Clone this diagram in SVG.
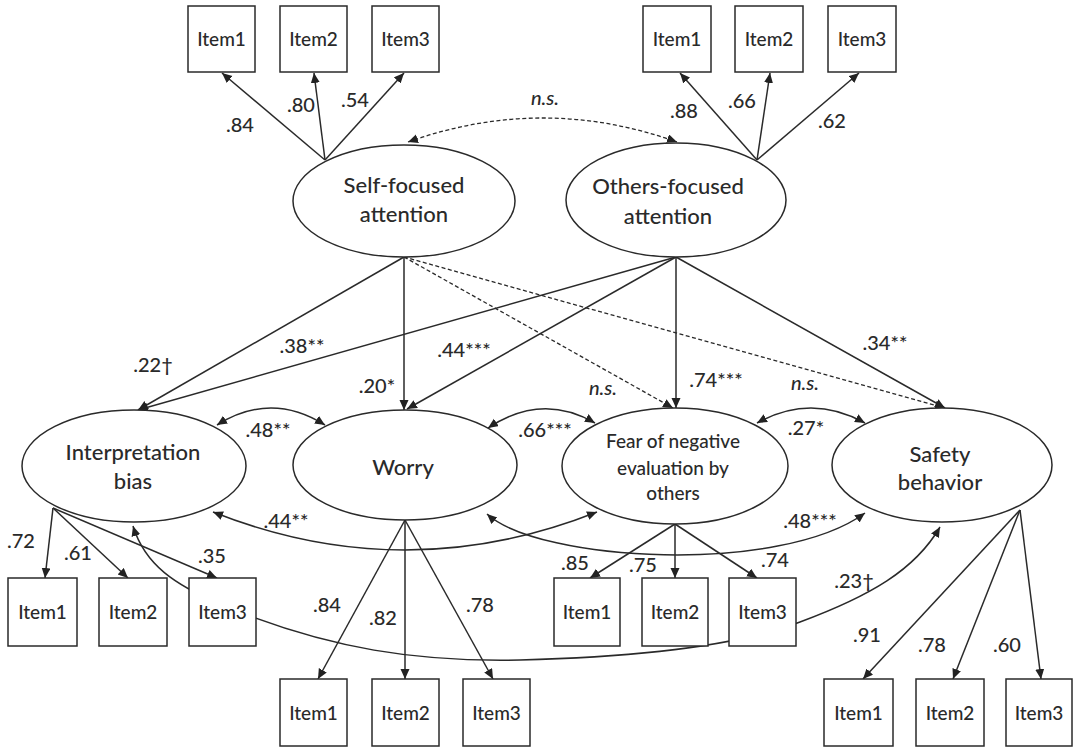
<svg xmlns="http://www.w3.org/2000/svg" width="1074" height="748" viewBox="0 0 1074 748">
<defs>
<marker id="ah" markerUnits="userSpaceOnUse" markerWidth="11" markerHeight="10" refX="10" refY="4.5" orient="auto-start-reverse">
<path d="M0,0 L10,4.5 L0,9 z" fill="#222"/>
</marker>
<style>
.ln{stroke:#2a2a2a;stroke-width:1.5;fill:none;marker-end:url(#ah)}
.dl{stroke:#2a2a2a;stroke-width:1.3;fill:none;stroke-dasharray:4 2.5;marker-end:url(#ah)}
.cv{stroke:#2a2a2a;stroke-width:1.5;fill:none;marker-start:url(#ah);marker-end:url(#ah)}
.cvd{stroke:#2a2a2a;stroke-width:1.3;fill:none;stroke-dasharray:4 2.5;marker-start:url(#ah);marker-end:url(#ah)}
.el{fill:#fff;stroke:#2a2a2a;stroke-width:1.5}
.bx{fill:#fff;stroke:#2a2a2a;stroke-width:1.5}
.t{font-family:Lato,"Open Sans",sans-serif;font-weight:500;fill:#2a2a2a;text-anchor:middle}
.lt{font-size:22px}
.ft{font-size:19px}
.it{font-size:19px}
.lb{font-family:Lato,"Open Sans",sans-serif;font-weight:500;fill:#2a2a2a;text-anchor:middle;font-size:20px}
.ns{font-style:italic}
</style>
</defs>
<rect width="1074" height="748" fill="#fff"/>
<g id="connectors">
<path class="ln" d="M325,160 L222,73"/>
<path class="ln" d="M325,160 L314,73"/>
<path class="ln" d="M325,160 L404,73"/>
<path class="ln" d="M757,160 L680,73"/>
<path class="ln" d="M757,160 L770,73"/>
<path class="ln" d="M757,160 L859,73"/>
<path class="cvd" d="M408,142 Q543,94 677,142"/>
<path class="ln" d="M404,257 L138,410"/>
<path class="ln" d="M404,257 L404,410"/>
<path class="dl" d="M404,257 L673,408"/>
<path class="dl" d="M404,257 L945,408"/>
<path class="ln" d="M676,257 L138,410"/>
<path class="ln" d="M676,257 L407,409"/>
<path class="ln" d="M676,257 L676,408"/>
<path class="ln" d="M676,257 L945,408"/>
<path class="cv" d="M217,425 Q271,391 325,425"/>
<path class="cv" d="M488,428 Q542,392 595,423"/>
<path class="cv" d="M757,423 Q811,393 865,423"/>
<path class="cv" d="M213,512 Q405,588 597,512"/>
<path class="cv" d="M487,514 C540,562 780,575 865,513"/>
<path class="cv" d="M133,526 C145,565 175,585 222,605 C330,650 420,662 520,660 C640,657 740,645 800,622 C870,596 915,570 940,527"/>
<path class="ln" d="M53,508 L45,578"/>
<path class="ln" d="M53,508 L128,578"/>
<path class="ln" d="M53,508 L217,578"/>
<path class="ln" d="M405,520 L318,679"/>
<path class="ln" d="M405,520 L405,679"/>
<path class="ln" d="M405,520 L493,679"/>
<path class="ln" d="M675,524 L590,578"/>
<path class="ln" d="M675,524 L675,578"/>
<path class="ln" d="M675,524 L757,578"/>
<path class="ln" d="M1020,510 L863,679"/>
<path class="ln" d="M1020,510 L953,679"/>
<path class="ln" d="M1020,510 L1041,679"/>
</g>
<g id="labels">
<text class="lb" x="240" y="132">.84</text>
<text class="lb" x="301" y="112">.80</text>
<text class="lb" x="355" y="107">.54</text>
<text class="lb ns" x="545" y="105">n.s.</text>
<text class="lb" x="684" y="118">.88</text>
<text class="lb" x="742" y="108">.66</text>
<text class="lb" x="832" y="128">.62</text>
<text class="lb" x="153" y="372">.22†</text>
<text class="lb" x="302" y="353">.38**</text>
<text class="lb" x="377" y="393">.20*</text>
<text class="lb" x="464" y="357">.44***</text>
<text class="lb ns" x="603" y="395">n.s.</text>
<text class="lb" x="716" y="387">.74***</text>
<text class="lb ns" x="805" y="390">n.s.</text>
<text class="lb" x="885" y="350">.34**</text>
<text class="lb" x="268" y="437">.48**</text>
<text class="lb" x="545" y="437">.66***</text>
<text class="lb" x="806" y="435">.27*</text>
<text class="lb" x="286" y="528">.44**</text>
<text class="lb" x="810" y="528">.48***</text>
<text class="lb" x="21" y="548">.72</text>
<text class="lb" x="78" y="560">.61</text>
<text class="lb" x="212" y="563">.35</text>
<text class="lb" x="327" y="612">.84</text>
<text class="lb" x="383" y="625">.82</text>
<text class="lb" x="480" y="612">.78</text>
<text class="lb" x="575" y="570">.85</text>
<text class="lb" x="643" y="572">.75</text>
<text class="lb" x="775" y="567">.74</text>
<text class="lb" x="854" y="588">.23†</text>
<text class="lb" x="867" y="642">.91</text>
<text class="lb" x="932" y="652">.78</text>
<text class="lb" x="1007" y="652">.60</text>
</g>
<g id="self-focused">
<ellipse class="el" cx="404" cy="201" rx="111" ry="56"/>
<text class="t lt" x="404" y="193">Self-focused</text>
<text class="t lt" x="404" y="222">attention</text>
</g>
<g id="others-focused">
<ellipse class="el" cx="676" cy="200" rx="110" ry="57"/>
<text class="t lt" x="668" y="194">Others-focused</text>
<text class="t lt" x="668" y="224">attention</text>
</g>
<g id="interpretation-bias">
<ellipse class="el" cx="134" cy="466" rx="112" ry="56"/>
<text class="t lt" x="133" y="460">Interpretation</text>
<text class="t lt" x="133" y="489">bias</text>
</g>
<g id="worry">
<ellipse class="el" cx="405" cy="465" rx="112" ry="55"/>
<text class="t lt" x="403" y="475">Worry</text>
</g>
<g id="fear">
<ellipse class="el" cx="675" cy="466" rx="113" ry="58"/>
<text class="t ft" x="673" y="448">Fear of negative</text>
<text class="t ft" x="673" y="475">evaluation by</text>
<text class="t ft" x="673" y="500">others</text>
</g>
<g id="safety">
<ellipse class="el" cx="942" cy="465" rx="110" ry="57"/>
<text class="t lt" x="940" y="462">Safety</text>
<text class="t lt" x="940" y="490">behavior</text>
</g>
<g id="sfa-item1"><rect class="bx" x="188" y="6" width="67" height="66"/><text class="t it" x="221.5" y="46">Item1</text></g>
<g id="sfa-item2"><rect class="bx" x="280" y="6" width="67" height="66"/><text class="t it" x="313.5" y="46">Item2</text></g>
<g id="sfa-item3"><rect class="bx" x="372" y="6" width="67" height="66"/><text class="t it" x="405.5" y="46">Item3</text></g>
<g id="ofa-item1"><rect class="bx" x="643" y="6" width="68" height="66"/><text class="t it" x="677" y="46">Item1</text></g>
<g id="ofa-item2"><rect class="bx" x="735" y="6" width="68" height="66"/><text class="t it" x="769" y="46">Item2</text></g>
<g id="ofa-item3"><rect class="bx" x="828" y="6" width="68" height="66"/><text class="t it" x="862" y="46">Item3</text></g>
<g id="ib-item1"><rect class="bx" x="8" y="578" width="69" height="68"/><text class="t it" x="42.5" y="619">Item1</text></g>
<g id="ib-item2"><rect class="bx" x="99" y="578" width="68" height="68"/><text class="t it" x="133" y="619">Item2</text></g>
<g id="ib-item3"><rect class="bx" x="189" y="578" width="67" height="68"/><text class="t it" x="222.5" y="619">Item3</text></g>
<g id="fne-item1"><rect class="bx" x="554" y="578" width="66" height="68"/><text class="t it" x="587" y="619">Item1</text></g>
<g id="fne-item2"><rect class="bx" x="642" y="578" width="66" height="68"/><text class="t it" x="675" y="619">Item2</text></g>
<g id="fne-item3"><rect class="bx" x="729" y="578" width="67" height="68"/><text class="t it" x="762.5" y="619">Item3</text></g>
<g id="w-item1"><rect class="bx" x="280" y="679" width="67" height="67"/><text class="t it" x="313.5" y="720">Item1</text></g>
<g id="w-item2"><rect class="bx" x="372" y="679" width="67" height="67"/><text class="t it" x="405.5" y="720">Item2</text></g>
<g id="w-item3"><rect class="bx" x="463" y="679" width="67" height="67"/><text class="t it" x="496.5" y="720">Item3</text></g>
<g id="sb-item1"><rect class="bx" x="824" y="679" width="69" height="67"/><text class="t it" x="858.5" y="720">Item1</text></g>
<g id="sb-item2"><rect class="bx" x="916" y="679" width="68" height="67"/><text class="t it" x="950" y="720">Item2</text></g>
<g id="sb-item3"><rect class="bx" x="1006" y="679" width="66" height="67"/><text class="t it" x="1039" y="720">Item3</text></g>
</svg>
